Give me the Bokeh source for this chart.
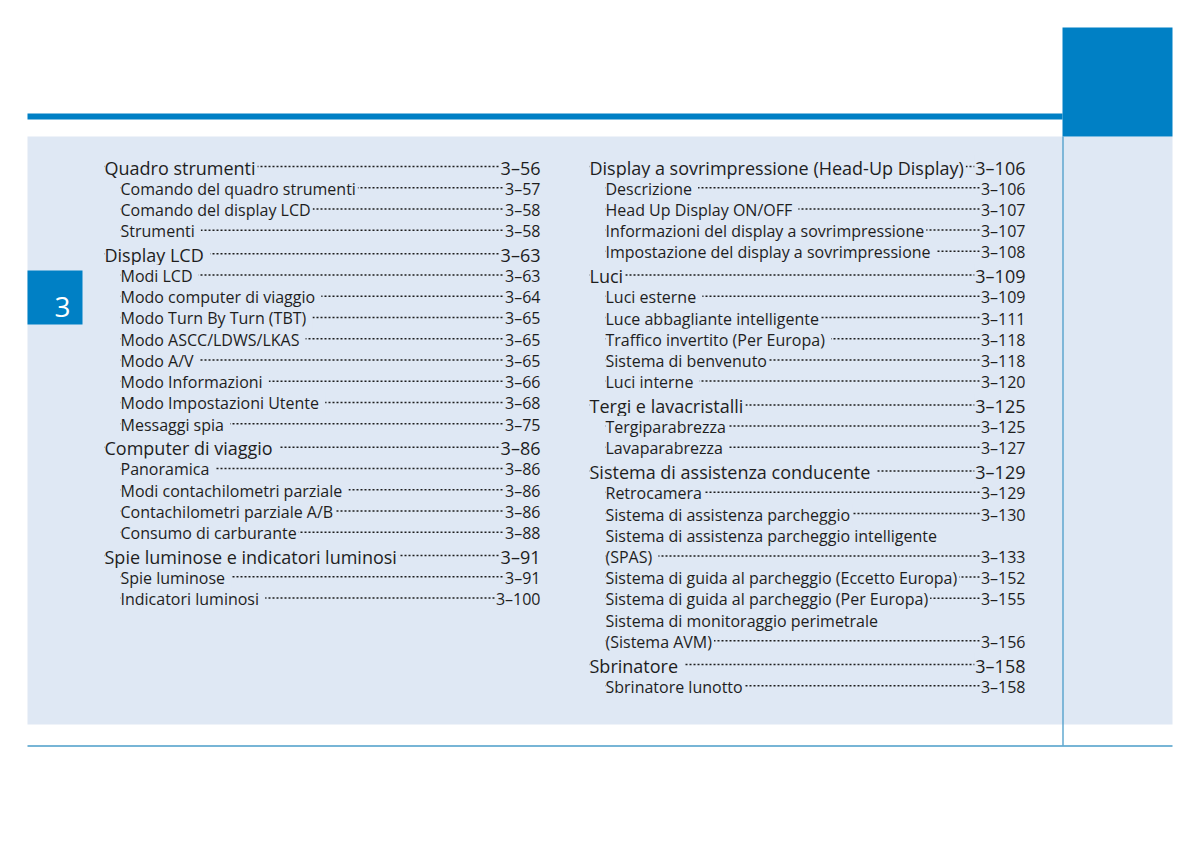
from bokeh.plotting import figure
from bokeh.models import ColumnDataSource, Range1d
from bokeh.core.properties import value
from bokeh.embed import file_html
from bokeh.resources import INLINE

# ---------------- data ----------------
left_titles = [
    "Quadro strumenti", "Comando del quadro strumenti", "Comando del display LCD", "Strumenti ",
    "Display LCD ", "Modi LCD ", "Modo computer di viaggio ", "Modo Turn By Turn (TBT) ",
    "Modo ASCC/LDWS/LKAS ", "Modo A/V ", "Modo Informazioni ", "Modo Impostazioni Utente ",
    "Messaggi spia ",
    "Computer di viaggio ", "Panoramica ", "Modi contachilometri parziale ",
    "Contachilometri parziale A/B", "Consumo di carburante",
    "Spie luminose e indicatori luminosi", "Spie luminose ", "Indicatori luminosi ",
]
left_levels = ["h", "s", "s", "s",
               "h", "s", "s", "s", "s", "s", "s", "s", "s",
               "h", "s", "s", "s", "s",
               "h", "s", "s"]
left_pages = ["3–56", "3–57", "3–58", "3–58",
              "3–63", "3–63", "3–64", "3–65", "3–65", "3–65", "3–66", "3–68", "3–75",
              "3–86", "3–86", "3–86", "3–86", "3–88",
              "3–91", "3–91", "3–100"]

right_titles = [
    "Display a sovrimpressione (Head-Up Display)", "Descrizione ", "Head Up Display ON/OFF ",
    "Informazioni del display a sovrimpressione", "Impostazione del display a sovrimpressione ",
    "Luci", "Luci esterne ", "Luce abbagliante intelligente", "Traffico invertito (Per Europa) ",
    "Sistema di benvenuto", "Luci interne ",
    "Tergi e lavacristalli", "Tergiparabrezza", "Lavaparabrezza ",
    "Sistema di assistenza conducente ", "Retrocamera", "Sistema di assistenza parcheggio",
    "Sistema di assistenza parcheggio intelligente", "(SPAS) ",
    "Sistema di guida al parcheggio (Eccetto Europa)", "Sistema di guida al parcheggio (Per Europa)",
    "Sistema di monitoraggio perimetrale", "(Sistema AVM)",
    "Sbrinatore ", "Sbrinatore lunotto",
]
right_levels = ["h", "s", "s", "s", "s",
                "h", "s", "s", "s", "s", "s",
                "h", "s", "s",
                "h", "s", "s", "s", "s", "s", "s", "s", "s",
                "h", "s"]
right_pages = ["3–106", "3–106", "3–107", "3–107", "3–108",
               "3–109", "3–109", "3–111", "3–118", "3–118", "3–120",
               "3–125", "3–125", "3–127",
               "3–129", "3–129", "3–130", "", "3–133", "3–152", "3–155", "", "3–156",
               "3–158", "3–158"]

chapter = "3"

# ---------------- style / layout ----------------
BLUE = "#0080c5"
PANEL = "#dfe8f4"
LINE = "#4a9cc9"
INK = "#1e1e1e"
FONT = value("Open Sans")

p = figure(width=1184, height=845, output_backend="svg", toolbar_location=None,
           x_range=Range1d(0, 1184), y_range=Range1d(845, 0),
           x_axis_type=None, y_axis_type=None, min_border=0,
           background_fill_color="white", border_fill_color="white")
p.outline_line_color = None
p.grid.visible = False

# page furniture
p.quad(left=[27], right=[1172], top=[136], bottom=[724], fill_color=PANEL, line_color=None)
p.quad(left=[27], right=[1062], top=[113], bottom=[119], fill_color=BLUE, line_color=None)
p.quad(left=[1062], right=[1172], top=[27], bottom=[136], fill_color=BLUE, line_color=None)
p.segment(x0=[1062.5], y0=[136], x1=[1062.5], y1=[745], line_color=LINE, line_width=1.3)
p.segment(x0=[27], y0=[745.5], x1=[1172], y1=[745.5], line_color=LINE, line_width=1.5)
p.quad(left=[27], right=[82], top=[270], bottom=[324], fill_color=BLUE, line_color=None)
p.text(x=[62], y=[306], text=[chapter], text_color="white", text_font=FONT,
       text_font_size="28px", text_align="center", text_baseline="alphabetic")


def column(titles, levels, pages, x_head, x_sub, x_right, y0, pitch, extra):
    ys, xs, sizes = [], [], []
    y = y0
    for i, lv in enumerate(levels):
        if i > 0:
            y += pitch + (extra if lv == "h" else 0)
        ys.append(y)
        xs.append(x_head if lv == "h" else x_sub)
        sizes.append("18px" if lv == "h" else "16px")
    # dot leaders
    dx0 = [x for x, pg in zip(xs, pages) if pg]
    dy = [y - 1.0 for y, pg in zip(ys, pages) if pg]
    p.segment(x0=dx0, y0=dy, x1=[x_right - 2] * len(dx0), y1=dy,
              line_color=INK, line_width=1.5, line_dash="2 2")
    src = ColumnDataSource(dict(x=xs, y=ys, t=titles, s=sizes,
                                xr=[x_right] * len(xs), pg=pages))
    p.text(x="x", y="y", text="t", source=src, text_font=FONT, text_font_size="s",
           text_color=INK, text_align="left", text_baseline="alphabetic",
           background_fill_color=PANEL, padding=(0, 2, 0, 0))
    p.text(x="xr", y="y", text="pg", source=src, text_font=FONT, text_font_size="s",
           text_color=INK, text_align="right", text_baseline="alphabetic",
           background_fill_color=PANEL, padding=(1, 0, 0, 0))


column(left_titles, left_levels, left_pages, 104, 120, 540, 167.0, 21.25, 2.2)
column(right_titles, right_levels, right_pages, 589, 605, 1025, 167.0, 21.2, 2.6)

open("out.html", "w").write(file_html(p, INLINE))
